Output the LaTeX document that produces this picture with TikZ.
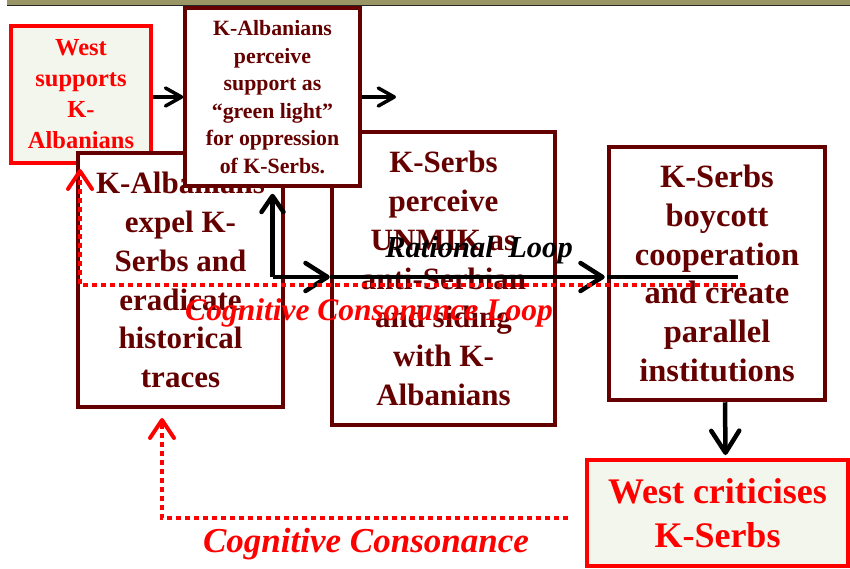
\documentclass[tikz,border=0pt]{standalone}
\usepackage{fontspec}
\setmainfont{Liberation Serif}
\usetikzlibrary{arrows.meta}
\definecolor{boxred}{HTML}{650000}
\definecolor{westred}{HTML}{FF0000}
\definecolor{westfill}{HTML}{F3F6EC}
\definecolor{barolive}{HTML}{9A9564}
\begin{document}
\begin{tikzpicture}[x=1pt,y=-1pt,
  chainbox/.style={draw=boxred, line width=4.5pt, fill=white, text=boxred,
    align=center, inner sep=0pt, font=\bfseries\fontsize{31}{38.8}\selectfont},
  smallbox/.style={chainbox, line width=3.5pt, font=\bfseries\fontsize{21.8}{27.6}\selectfont},
  westbox/.style={draw=westred, line width=4pt, fill=westfill, text=westred,
    align=center, inner sep=0pt},
  arr/.style={line width=4.5pt, -{Straight Barb[length=22pt,width=28pt,round]}},
  uparr/.style={line width=4.5pt, -{Straight Barb[length=16pt,width=22pt,round]}},
  smallarr/.style={line width=3.5pt, -{Straight Barb[length=16pt,width=18pt,round]}},
  reddot/.style={draw=westred, line width=4.5pt, dash pattern=on 5pt off 4pt},
  redarr/.style={-{Straight Barb[length=18pt,width=24pt,round,line width=4pt]}},
  looplabel/.style={font=\bfseries\itshape\fontsize{31.5}{36}\selectfont}
]
\useasboundingbox (0,0) rectangle (850,568);
% title bar along the top edge
\fill[barolive] (7,0) rectangle (850,5);
\draw[black!85, line width=1.3pt] (7,5.3) -- (850,5.3);

% boxes of the chain
\node[westbox, minimum width=140pt, minimum height=137pt,
  font=\bfseries\fontsize{24.5}{31}\selectfont] (westsup) at (81,94.5)
  {West\\supports\\K-\\Albanians};
\node[chainbox, minimum width=205pt, minimum height=254pt] (expel) at (180.5,280)
  {K-Albanians\\expel K-\\Serbs and\\eradicate\\historical\\traces};
\node[chainbox, minimum width=223pt, minimum height=293pt] (unmik) at (443.5,278.5)
  {K-Serbs\\perceive\\UNMIK as\\anti-Serbian\\and siding\\with K-\\Albanians};
\node[chainbox, minimum width=216pt, minimum height=253pt,
  font=\bfseries\fontsize{32.5}{38.8}\selectfont] (boycott) at (717,273.5)
  {K-Serbs\\boycott\\cooperation\\and create\\parallel\\institutions};
\node[smallbox, minimum width=175pt, minimum height=178pt] (perceive) at (272.5,97)
  {K-Albanians\\perceive\\support as\\``green light''\\for oppression\\of K-Serbs.};
\node[westbox, minimum width=261pt, minimum height=106pt,
  font=\bfseries\fontsize{36}{44}\selectfont] (westcrit) at (717.5,513)
  {West criticises\\K-Serbs};

% free ends and corners of the connectors
\coordinate (pfree) at (396,97);
\coordinate (rcorner) at (272.5,277);
\coordinate (rend) at (738,277);
\coordinate (cend) at (745,285);
\coordinate (ccorner) at (80,285);
\coordinate (ctip) at (80,169);
\coordinate (bstart) at (568,518);
\coordinate (bcorner) at (162,518);
\coordinate (btip) at (162,418);

% upper connectors
\draw[smallarr] (westsup.east |- perceive) -- (perceive.west);
\draw[smallarr] (perceive.east) -- (pfree);

% rational loop
\draw[uparr] (rcorner) -- ([yshift=-6pt]perceive.south);
\draw[arr] (rcorner) -- (rcorner -| unmik.west);
\draw[arr] (rcorner -| unmik.west) -- ([xshift=-2pt]rcorner -| boycott.west);
\draw[line width=4.5pt] (rcorner -| boycott.west) -- (rend);
\node[looplabel, font=\bfseries\itshape\fontsize{30.5}{36}\selectfont] (rlabel) at (479,250) {Rational\hspace{7pt} Loop};

% cognitive consonance loop
\draw[reddot] (cend) -- (ccorner) -- ([yshift=-6pt]ctip);
\draw[westred, redarr, line width=4pt] ([yshift=-7pt]ctip) -- (ctip);
\node[looplabel, text=westred] (clabel) at (369,313) {Cognitive Consonance Loop};

% reaction of the West
\draw[arr] ([xshift=8pt]boycott.south) -- ([xshift=8pt,yshift=3pt]westcrit.north);

% cognitive consonance
\draw[reddot] (bstart) -- (bcorner) -- ([yshift=-6pt]btip);
\draw[westred, redarr, line width=4pt] ([yshift=-7pt]btip) -- (btip);
\node[looplabel, text=westred, font=\bfseries\itshape\fontsize{35}{40}\selectfont] (blabel) at (366,544) {Cognitive Consonance};
\end{tikzpicture}
\end{document}
